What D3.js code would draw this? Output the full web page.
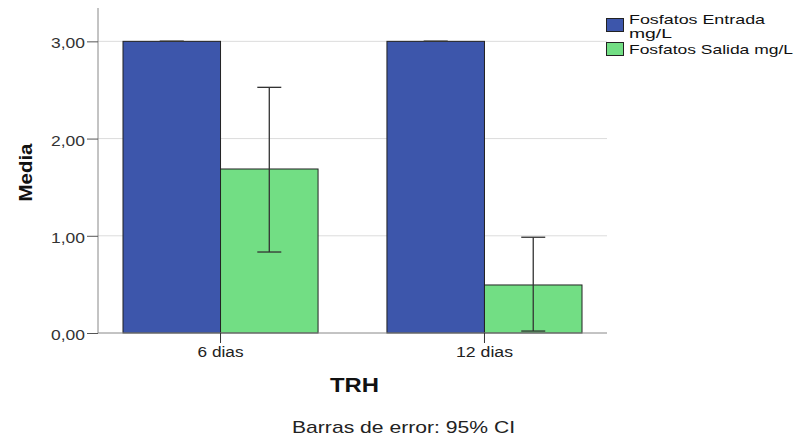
<!DOCTYPE html>
<html>
<head>
<meta charset="utf-8">
<script src="https://cdn.jsdelivr.net/npm/d3@7"></script>
<style>
  html, body { margin: 0; padding: 0; background: #fff; }
  svg { display: block; font-family: "Liberation Sans", Arial, sans-serif; }
</style>
</head>
<body>
<svg id="chart" width="795" height="437"></svg>
<script>
// Mean phosphate concentration by hydraulic retention time, with 95% CI
const categories = ["6 dias", "12 dias"];
const seriesNames = ["Fosfatos Entrada mg/L", "Fosfatos Salida mg/L"];
const entradaMeans = [3.00, 3.00];
const entradaLow = [3.00, 3.00];
const entradaHigh = [3.00, 3.00];
const salidaMeans = [1.687, 0.494];
const salidaLow = [0.833, 0.02];
const salidaHigh = [2.527, 0.985];
const yTicks = [0, 1, 2, 3];
const seriesColors = ["#3d56ab", "#72de84"];

const svg = d3.select("#chart");
const plot = { left: 98, right: 607, top: 8, bottom: 333 };

// stretch a text horizontally to a given width
function widen(sel, w) {
  sel.attr("textLength", w).attr("lengthAdjust", "spacingAndGlyphs");
}

const x = d3.scaleBand()
  .domain(categories)
  .range([plot.left, plot.right])
  .paddingInner(0.261)
  .paddingOuter(0.0947);

const xSeries = d3.scaleBand()
  .domain(seriesNames)
  .range([0, x.bandwidth()]);

const y = d3.scaleLinear()
  .domain([0, 3.343])
  .range([plot.bottom, plot.top]);

const fmt = v => d3.format(".2f")(v).replace(".", ",");

// gridlines
svg.append("g")
  .selectAll("line")
  .data(yTicks.filter(d => d > 0))
  .join("line")
  .attr("x1", plot.left).attr("x2", plot.right)
  .attr("y1", d => y(d)).attr("y2", d => y(d))
  .attr("stroke", "#dcdcdc").attr("stroke-width", 1);

// bars
const rows = categories.map((c, i) => [
  { cat: c, s: seriesNames[0], v: entradaMeans[i], lo: entradaLow[i], hi: entradaHigh[i], col: seriesColors[0] },
  { cat: c, s: seriesNames[1], v: salidaMeans[i], lo: salidaLow[i], hi: salidaHigh[i], col: seriesColors[1] }
]).flat();

svg.append("g")
  .selectAll("rect")
  .data(rows)
  .join("rect")
  .attr("x", d => x(d.cat) + xSeries(d.s))
  .attr("y", d => y(d.v))
  .attr("width", xSeries.bandwidth())
  .attr("height", d => y(0) - y(d.v))
  .attr("fill", d => d.col)
  .attr("stroke", "#222")
  .attr("stroke-width", 1);

// error bars
const eb = svg.append("g").attr("stroke", "#333").attr("stroke-width", 1.3);
rows.forEach(d => {
  const cx = x(d.cat) + xSeries(d.s) + xSeries.bandwidth() / 2;
  const cap = 12;
  eb.append("line").attr("x1", cx).attr("x2", cx).attr("y1", y(d.lo)).attr("y2", y(d.hi));
  eb.append("line").attr("x1", cx - cap).attr("x2", cx + cap).attr("y1", y(d.hi)).attr("y2", y(d.hi));
  eb.append("line").attr("x1", cx - cap).attr("x2", cx + cap).attr("y1", y(d.lo)).attr("y2", y(d.lo));
});

// y axis
const yAxis = svg.append("g")
  .attr("transform", `translate(${plot.left},0)`)
  .call(d3.axisLeft(y).tickValues(yTicks).tickFormat(fmt).tickSize(11).tickPadding(2));
yAxis.select(".domain").attr("d", `M0,${plot.top}V${plot.bottom}`).attr("stroke", "#888");
yAxis.selectAll(".tick line").attr("stroke", "#555");
yAxis.selectAll(".tick text")
  .attr("font-size", 15.5).attr("fill", "#333").attr("dy", "0.42em")
  .attr("font-family", "Liberation Sans, Arial, sans-serif")
  .call(widen, 34);

// x axis
const xAxis = svg.append("g")
  .attr("transform", `translate(0,${plot.bottom})`)
  .call(d3.axisBottom(x).tickSize(10).tickPadding(3));
xAxis.select(".domain").attr("d", `M${plot.left},0H${plot.right}`).attr("stroke", "#888");
xAxis.selectAll(".tick line").attr("stroke", "#333");
xAxis.selectAll(".tick text")
  .attr("font-size", 15.5).attr("fill", "#222")
  .attr("font-family", "Liberation Sans, Arial, sans-serif")
  .each(function(d) { d3.select(this).call(widen, d.length > 6 ? 57 : 46); });

// axis titles
svg.append("text")
  .attr("transform", `translate(32,${(plot.top + plot.bottom) / 2 + 2}) rotate(-90)`)
  .attr("text-anchor", "middle")
  .attr("font-size", 19).attr("font-weight", "bold").attr("fill", "#111")
  .text("Media")
  .call(widen, 58);

svg.append("text")
  .attr("x", 354.5).attr("y", 392)
  .attr("text-anchor", "middle")
  .attr("font-size", 20).attr("font-weight", "bold").attr("fill", "#111")
  .text("TRH")
  .call(widen, 49);

svg.append("text")
  .attr("x", 403.5).attr("y", 433)
  .attr("text-anchor", "middle")
  .attr("font-size", 17).attr("fill", "#222")
  .text("Barras de error: 95% CI")
  .call(widen, 223);

// legend
const legend = svg.append("g");
const legendItems = [
  { lines: [["Fosfatos Entrada", 136, 24], ["mg/L", 43, 38]], col: seriesColors[0], y: 18 },
  { lines: [[seriesNames[1], 164, 54]], col: seriesColors[1], y: 42 }
];
legendItems.forEach(it => {
  legend.append("rect")
    .attr("x", 606.5).attr("y", it.y + 0.5).attr("width", 17).attr("height", 13)
    .attr("fill", it.col).attr("stroke", "#222").attr("stroke-width", 1);
  it.lines.forEach(([t, w, by]) => {
    legend.append("text")
      .attr("x", 629).attr("y", by)
      .attr("font-size", 13).attr("fill", "#111")
      .text(t)
      .call(widen, w);
  });
});
</script>
</body>
</html>
